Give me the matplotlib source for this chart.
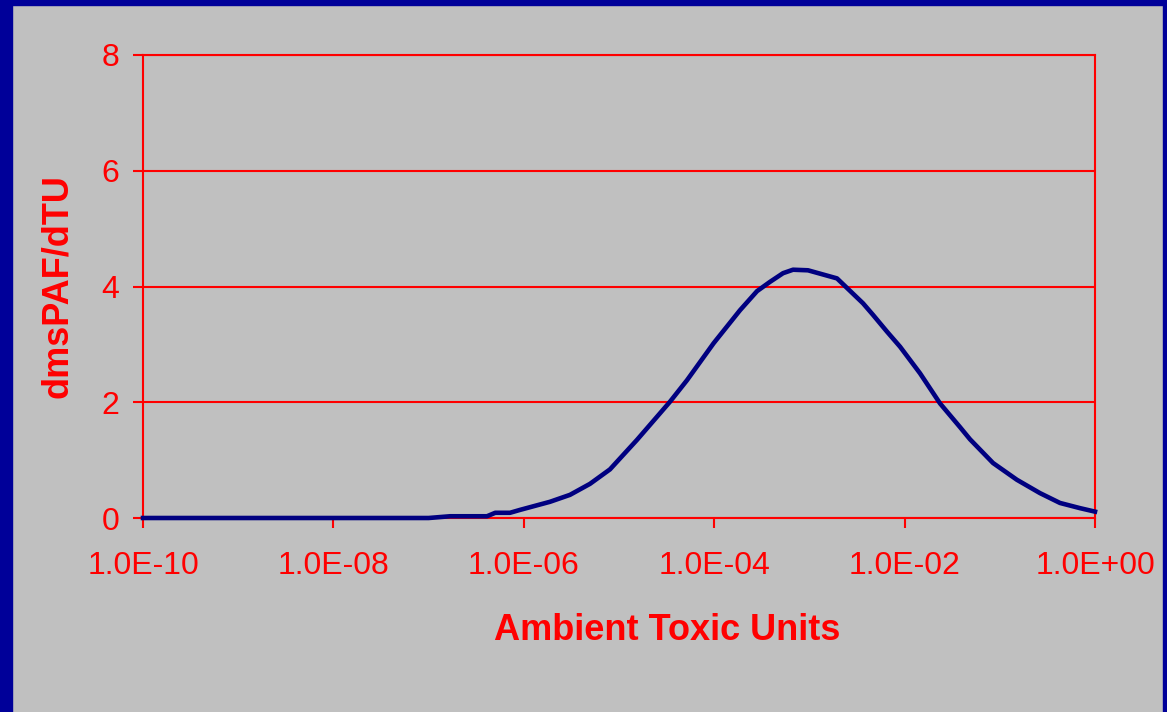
import numpy as np
import matplotlib.pyplot as plt
from matplotlib.patches import Rectangle

# log10 of ambient toxic units
log_tu = [-10.0, -9.0, -8.0, -7.0, -6.775, -6.387, -6.30, -6.145, -6.04, -5.725,
          -5.515, -5.305, -5.095, -4.811, -4.569, -4.464, -4.286, -4.006, -3.729,
          -3.55, -3.414, -3.277, -3.172, -3.015, -2.71, -2.437, -2.332, -2.185,
          -2.048, -1.838, -1.628, -1.418, -1.313, -1.071, -0.82, -0.578, -0.368,
          -0.157, 0.0]
dms_paf = [0.0, 0.0, 0.0, 0.0, 0.03, 0.03, 0.09, 0.09, 0.14, 0.28,
           0.40, 0.59, 0.84, 1.35, 1.81, 2.01, 2.38, 3.02, 3.59,
           3.92, 4.08, 4.23, 4.29, 4.28, 4.14, 3.71, 3.51, 3.22,
           2.96, 2.50, 1.98, 1.57, 1.36, 0.95, 0.66, 0.43, 0.26,
           0.17, 0.11]

x_ticks = [1e-10, 1e-8, 1e-6, 1e-4, 1e-2, 1e0]
x_labels = ["1.0E-10", "1.0E-08", "1.0E-06", "1.0E-04", "1.0E-02", "1.0E+00"]
y_ticks = [0, 2, 4, 6, 8]

RED = "#FF0000"
NAVY = "#000080"
BG = "#C0C0C0"

plt.rcParams['font.family'] = ['Liberation Sans', 'DejaVu Sans']

fig = plt.figure(figsize=(11.67, 7.12), dpi=100, facecolor=BG)
ax = fig.add_axes([143 / 1167, 1 - 518 / 712, 952 / 1167, 463 / 712])
ax.set_facecolor(BG)

x = 10.0 ** np.array(log_tu)
ax.plot(x, dms_paf, color=NAVY, linewidth=3.3, solid_joinstyle='round', zorder=3, clip_on=False)

ax.set_xscale('log')
ax.set_xlim(1e-10, 1e0)
ax.set_ylim(0, 8)
ax.set_xticks(x_ticks)
ax.set_xticklabels(x_labels)
ax.minorticks_off()
ax.set_yticks(y_ticks)

ax.yaxis.grid(True, color=RED, linewidth=1.5)
ax.set_axisbelow(True)
for s in ax.spines.values():
    s.set_color(RED)
    s.set_linewidth(1.5)

ax.tick_params(axis='both', colors=RED, labelcolor=RED, labelsize=23,
               length=7, width=1.5, direction='out')
ax.tick_params(axis='x', pad=17)
ax.tick_params(axis='y', pad=10)

ax.set_xlabel("Ambient Toxic Units", color=RED, fontsize=26, fontweight='bold', va='center')
ax.set_ylabel("dmsPAF/dTU", color=RED, fontsize=26, fontweight='bold', va='center', ha='center')
ax.xaxis.set_label_coords(0.551, -0.244)
ax.yaxis.set_label_coords(-0.09, 0.5)

# navy frame around the slide
fig.patches.append(Rectangle((0, 0), 12 / 1167, 1, transform=fig.transFigure,
                             color="#000099", zorder=10))
fig.patches.append(Rectangle((0, 1 - 5 / 712), 1, 5 / 712, transform=fig.transFigure,
                             color="#000099", zorder=10))
fig.patches.append(Rectangle((1 - 4 / 1167, 0), 4 / 1167, 1, transform=fig.transFigure,
                             color="#000099", zorder=10))

fig.savefig("out.png", dpi=100, facecolor=BG)
